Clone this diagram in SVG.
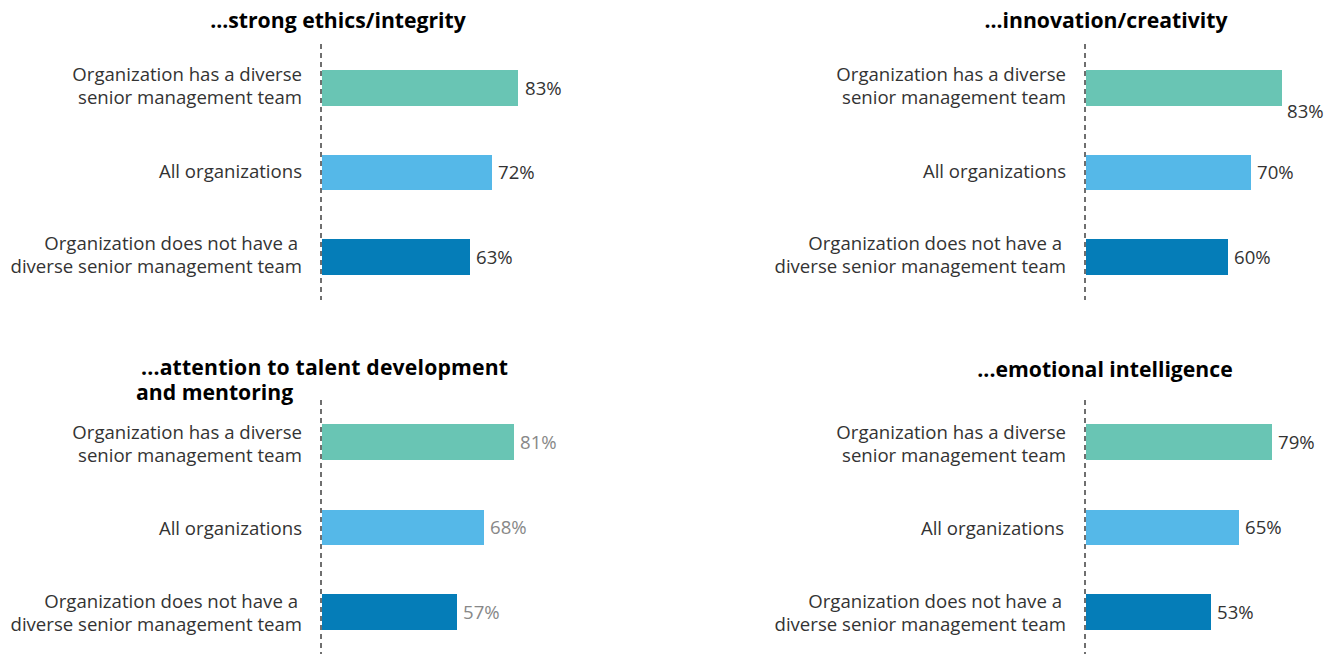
<svg xmlns="http://www.w3.org/2000/svg" width="1325" height="654" viewBox="0 0 1325 654">
<style>
.t{font-family:"Open Sans","Liberation Sans",sans-serif;font-weight:bold;font-size:21.2px;fill:#000}
.l{font-family:"Open Sans","Liberation Sans",sans-serif;font-size:18.6px;fill:#333;text-anchor:end}
.v{font-family:"Open Sans","Liberation Sans",sans-serif;font-size:18.6px;fill:#333}
.g{fill:#888}
.ax{stroke:#6f6f6f;stroke-width:2;stroke-dasharray:5 4;fill:none}
.b1{fill:#69C5B4}
.b2{fill:#55B8E8}
.b3{fill:#057DB8}
</style>
<rect width="1325" height="654" fill="#fff"/>
<g id="axes">
<line class="ax" x1="321" y1="44" x2="321" y2="300"/>
<line class="ax" x1="1085" y1="44" x2="1085" y2="300"/>
<line class="ax" x1="321" y1="400" x2="321" y2="654"/>
<line class="ax" x1="1085" y1="400" x2="1085" y2="654"/>
</g>
<g id="chart-ethics">
<text class="t" x="338" y="28" text-anchor="middle">...strong ethics/integrity</text>
<text class="l" x="302" y="81">Organization has a diverse</text>
<text class="l" x="302" y="104">senior management team</text>
<rect class="b1" x="322" y="70" width="196" height="36"/>
<text class="v" x="525" y="95">83%</text>
<text class="l" x="302" y="178">All organizations</text>
<rect class="b2" x="322" y="155" width="170" height="35"/>
<text class="v" x="498" y="179">72%</text>
<text class="l" x="298" y="250">Organization does not have a</text>
<text class="l" x="302" y="273">diverse senior management team</text>
<rect class="b3" x="322" y="239" width="148" height="36"/>
<text class="v" x="476" y="264">63%</text>
</g>
<g id="chart-innovation">
<text class="t" x="1106" y="28" text-anchor="middle">...innovation/creativity</text>
<text class="l" x="1066" y="81">Organization has a diverse</text>
<text class="l" x="1066" y="104">senior management team</text>
<rect class="b1" x="1086" y="70" width="196" height="36"/>
<text class="v" x="1287" y="118">83%</text>
<text class="l" x="1066" y="178">All organizations</text>
<rect class="b2" x="1086" y="155" width="165" height="35"/>
<text class="v" x="1257" y="179">70%</text>
<text class="l" x="1062" y="250">Organization does not have a</text>
<text class="l" x="1066" y="273">diverse senior management team</text>
<rect class="b3" x="1086" y="239" width="142" height="36"/>
<text class="v" x="1234" y="264">60%</text>
</g>
<g id="chart-talent">
<text class="t" x="141" y="375" textLength="367" lengthAdjust="spacing">...attention to talent development</text>
<text class="t" x="136" y="400">and mentoring</text>
<text class="l" x="302" y="439">Organization has a diverse</text>
<text class="l" x="302" y="462">senior management team</text>
<rect class="b1" x="322" y="424" width="192" height="36"/>
<text class="v g" x="520" y="449">81%</text>
<text class="l" x="302" y="535">All organizations</text>
<rect class="b2" x="322" y="510" width="162" height="35"/>
<text class="v g" x="490" y="534">68%</text>
<text class="l" x="298" y="608">Organization does not have a</text>
<text class="l" x="302" y="631">diverse senior management team</text>
<rect class="b3" x="322" y="594" width="135" height="36"/>
<text class="v g" x="463" y="619">57%</text>
</g>
<g id="chart-emotional">
<text class="t" x="1105" y="377" text-anchor="middle">...emotional intelligence</text>
<text class="l" x="1066" y="439">Organization has a diverse</text>
<text class="l" x="1066" y="462">senior management team</text>
<rect class="b1" x="1086" y="424" width="186" height="36"/>
<text class="v" x="1278" y="449">79%</text>
<text class="l" x="1064" y="535">All organizations</text>
<rect class="b2" x="1086" y="510" width="153" height="35"/>
<text class="v" x="1245" y="534">65%</text>
<text class="l" x="1062" y="608">Organization does not have a</text>
<text class="l" x="1066" y="631">diverse senior management team</text>
<rect class="b3" x="1086" y="594" width="125" height="36"/>
<text class="v" x="1217" y="619">53%</text>
</g>
</svg>
